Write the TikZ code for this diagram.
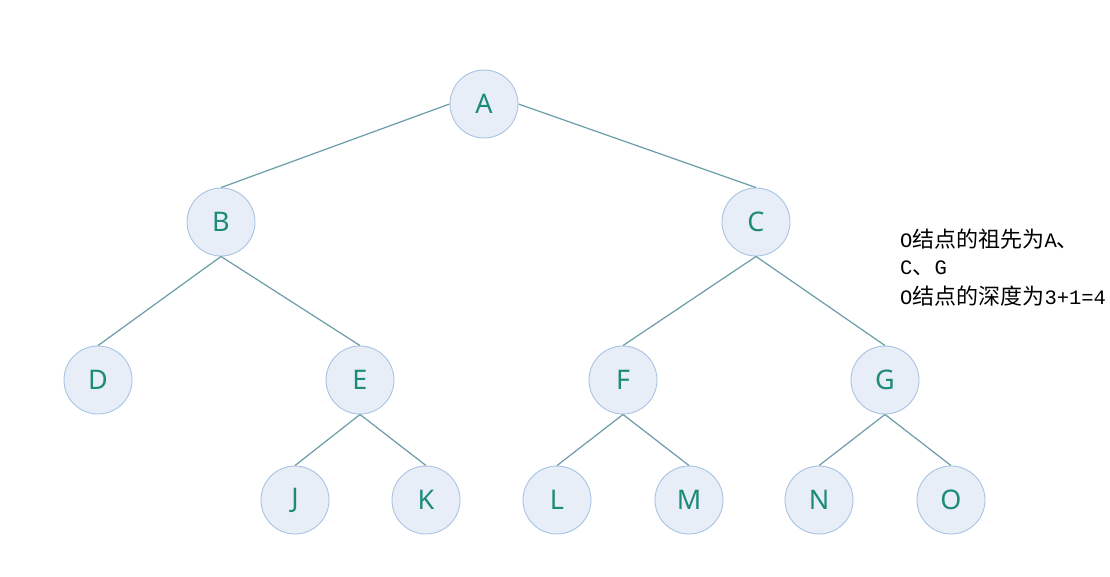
\documentclass[tikz,border=0pt]{standalone}
\usepackage{fontspec}
\setmainfont{Noto Sans}
\newfontfamily\cjk{Noto Sans CJK SC}
\newfontfamily\lmono{Liberation Mono}
\definecolor{nodefill}{HTML}{E8EEF8}
\definecolor{nodeborder}{HTML}{A9C3E2}
\definecolor{nodetext}{HTML}{1E8A78}
\definecolor{edgecol}{HTML}{6A9DA8}
\newcommand\lat[1]{{\lmono\fontsize{20.5}{24}\selectfont #1}}
\begin{document}
\begin{tikzpicture}[x=1pt,y=-1pt,
  treenode/.style={circle,draw=nodeborder,fill=nodefill,line width=0.9pt,minimum size=68pt,inner sep=0pt,text=nodetext,font=\fontsize{27}{30}\selectfont},
  edge/.style={draw=edgecol,line width=1.2pt},
  note/.style={anchor=west,inner sep=0pt,font=\cjk\fontsize{22}{26}\selectfont}]
\useasboundingbox (0,0) rectangle (1110,576);
\fill[white] (0,0) rectangle (1110,576);
\node[treenode] (A) at (484,104) {A};
\node[treenode] (B) at (221,222) {B};
\node[treenode] (C) at (756,222) {C};
\node[treenode] (D) at (98,380) {D};
\node[treenode] (E) at (360,380) {E};
\node[treenode] (F) at (623,380) {F};
\node[treenode] (G) at (885,380) {G};
\node[treenode] (J) at (295,500) {J};
\node[treenode] (K) at (426,500) {K};
\node[treenode] (L) at (557,500) {L};
\node[treenode] (M) at (689,500) {M};
\node[treenode] (N) at (819,500) {N};
\node[treenode] (O) at (951,500) {O};
\draw[edge] (A.west) -- (B.north);
\draw[edge] (A.east) -- (C.north);
\draw[edge] (B.south) -- (D.north);
\draw[edge] (B.south) -- (E.north);
\draw[edge] (C.south) -- (F.north);
\draw[edge] (C.south) -- (G.north);
\draw[edge] (E.south) -- (J.north);
\draw[edge] (E.south) -- (K.north);
\draw[edge] (F.south) -- (L.north);
\draw[edge] (F.south) -- (M.north);
\draw[edge] (G.south) -- (N.north);
\draw[edge] (G.south) -- (O.north);
\node[note] (t1) at (900,239) {\lat{O}结点的祖先为\lat{A}、};
\node[note] (t2) at (900,268) {\lat{C}、\lat{G}};
\node[note] (t3) at (900,296) {\lat{O}结点的深度为\lat{3+1=4}};
\end{tikzpicture}
\end{document}
